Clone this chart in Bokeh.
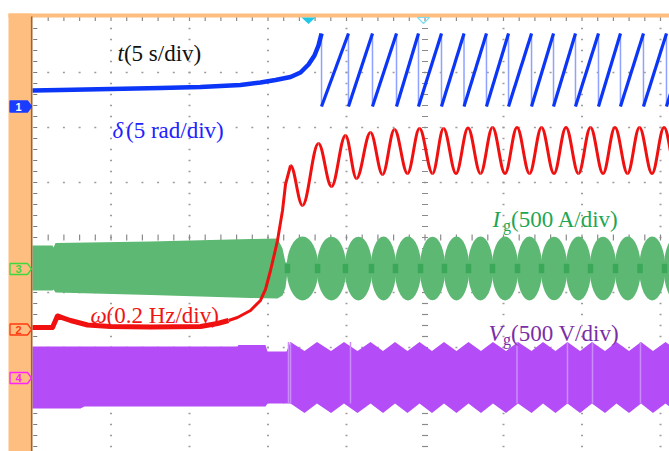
import numpy as np
from bokeh.plotting import figure
from bokeh.models import Range1d
from bokeh.embed import file_html
from bokeh.resources import INLINE
from bokeh.core.properties import value

# ------------------------------------------------------------------
# DATA  (oscilloscope units: x = time in divisions from the left grid
# edge, y = divisions from the centre graticule line, up positive)
# ------------------------------------------------------------------
# Channel 1 (blue): slow rise, then wrapping sawtooth
ch1_pre_t = [0.0, 0.357, 0.994, 1.631, 2.140, 2.650, 2.904, 3.096, 3.287,
             3.414, 3.516, 3.592, 3.643, 3.682]
ch1_pre_v = [2.673, 2.682, 2.700, 2.718, 2.736, 2.773, 2.818, 2.864, 2.918,
             3.000, 3.145, 3.309, 3.491, 3.709]
ch1_wrap_t = [3.682, 4.025, 4.331, 4.637, 4.917, 5.210, 5.497, 5.783, 6.064,
              6.357, 6.637, 6.917, 7.210, 7.490, 7.783, 8.076, 8.366]
ch1_top = 3.709
ch1_bottom = 2.382

# Channel 2 (red, omega): flat, rise, then oscillation extrema
ch2_pre_t = [0.0, 0.255, 0.318, 0.395, 0.484, 0.701, 0.994, 1.503, 2.140,
             2.357, 2.497, 2.611, 2.777, 2.904, 2.968, 3.032, 3.083, 3.121,
             3.185, 3.223, 3.287]
ch2_pre_v = [-1.636, -1.636, -1.427, -1.464, -1.509, -1.591, -1.618, -1.627,
             -1.618, -1.564, -1.509, -1.455, -1.327, -1.145, -0.945, -0.600,
             -0.291, -0.055, 0.491, 0.964, 1.309]
ch2_ext_t = [3.287, 3.439, 3.643, 3.809, 3.987, 4.127, 4.306, 4.459, 4.611,
             4.777, 4.930, 5.096, 5.236, 5.395, 5.548, 5.707, 5.860, 6.019,
             6.172, 6.331, 6.484, 6.643, 6.796, 6.955, 7.108, 7.268, 7.420,
             7.580, 7.732, 7.892, 8.045, 8.204]
ch2_ext_v = [1.309, 0.582, 1.709, 0.927, 1.855, 1.073, 1.909, 1.145, 1.964,
             1.164, 1.982, 1.164, 1.982, 1.164, 1.991, 1.164, 2.000, 1.164,
             2.000, 1.164, 2.000, 1.164, 2.000, 1.164, 2.000, 1.164, 2.000,
             1.164, 2.000, 1.164, 2.000, 1.164]

# Channel 3 (green, Ig): constant-amplitude envelope, then beating lobes
ch3_pre_t = [0.0, 0.255, 0.268, 0.293, 1.503, 2.777, 3.121, 3.185, 3.223, 3.248]
ch3_pre_top = [-0.145, -0.145, -0.182, -0.100, -0.073, -0.027, -0.018, -0.200,
               -0.455, -0.455]
ch3_pre_bot = [-0.964, -0.964, -0.945, -1.000, -1.045, -1.100, -1.109, -1.055,
               -0.909, -0.636]
ch3_neck_t = [3.248, 3.631, 3.987, 4.318, 4.624, 4.943, 5.248, 5.554, 5.860,
              6.178, 6.484, 6.803, 7.108, 7.427, 7.739, 8.051, 8.357]
ch3_lobe_mid = -0.564
ch3_lobe_span = 1.160
ch3_neck_span = 0.170

# Channel 4 (purple, Vg): envelope, then rippling band
ch4_pre_t_top = [0.0, 2.611, 2.624, 2.968, 2.994, 3.236]
ch4_pre_top = [-1.982, -1.982, -1.955, -1.955, -2.073, -2.073]
ch4_pre_t_bot = [0.0, 0.611, 0.662, 2.968, 2.994, 3.248]
ch4_pre_bot = [-3.109, -3.109, -3.073, -3.073, -3.018, -3.018]
ch4_ext_t = [3.287, 3.465, 3.624, 3.803, 3.968, 4.140, 4.306, 4.465, 4.618,
             4.777, 4.930, 5.089, 5.242, 5.401, 5.554, 5.713, 5.866, 6.032,
             6.185, 6.357, 6.503, 6.662, 6.815, 6.975, 7.127, 7.293, 7.439,
             7.599, 7.752, 7.904, 8.064, 8.217]
ch4_up_top, ch4_down_top = -1.900, -2.064
ch4_up_bot, ch4_down_bot = -3.018, -3.191
ch4_glitch_t = [3.261, 3.287, 4.051, 6.172, 6.815, 7.134, 7.745]

labels = [
    # (symbol, subscript, rest, colour, left px, baseline px)
    ("t", "", "(5 s/div)", "#111111", 117, 53),
    ("\u03b4", "", "(5 rad/div)", "#2222FF", 112, 130),
    ("I", "g", "(500 A/div)", "#1FA652", 492, 219),
    ("\u03c9", "", "(0.2 Hz/div)", "#F01414", 90, 315),
    ("V", "g", "(500 V/div)", "#7A2EA6", 488, 333),
]

# ------------------------------------------------------------------
PXD, PYD = 78.5, 55.0   # pixels per division


def X(sx):
    return (sx - 32) / PXD


def Y(sy):
    return (237 - sy) / PYD


p = figure(width=669, height=451, x_range=Range1d(X(0), X(669)),
           y_range=Range1d(Y(451), Y(0)), output_backend="svg",
           toolbar_location=None, x_axis_location=None, y_axis_location=None,
           min_border=0, outline_line_color=None,
           background_fill_color="white", border_fill_color="white")
p.grid.visible = False

# ---- graticule -----------------------------------------------------
gx, gy = [], []
for v in [3, 2, 1, -1, -2, -3]:
    for d in np.arange(0.2, 8.3, 0.2):
        gx.append(d); gy.append(v)
for d in [1, 2, 3, 4, 6, 7, 8]:
    for v in np.arange(-3.8, 4.0, 0.2):
        gx.append(d); gy.append(v)
p.rect(gx, gy, width=2, height=1.5, width_units="screen", height_units="screen",
       fill_color="#9c9c9c", line_color=None)
cx = list(np.arange(0.2, 8.3, 0.2))
p.rect(cx, [0] * len(cx), width=1.2, height=6, width_units="screen",
       height_units="screen", fill_color="#8a8a8a", line_color=None)
cy = list(np.arange(-3.8, 4.0, 0.2))
p.rect([5] * len(cy), cy, width=6, height=1.2, width_units="screen",
       height_units="screen", fill_color="#8a8a8a", line_color=None)
p.rect([0.035] * len(cy), cy, width=4, height=1.2, width_units="screen",
       height_units="screen", fill_color="#7a7a7a", line_color=None)
p.rect(cx, [Y(18.5)] * len(cx), width=1.2, height=4, width_units="screen",
       height_units="screen", fill_color="#8a8a8a", line_color=None)

# ---- channel 3 (green) ---------------------------------------------
p.patch(ch3_pre_t + ch3_pre_t[::-1], ch3_pre_top + ch3_pre_bot[::-1],
        fill_color="#5DB873", line_color=None)
nk = np.array(ch3_neck_t)
p.ellipse(x=(nk[:-1] + nk[1:]) / 2, y=ch3_lobe_mid, width=np.diff(nk) * 1.06,
          height=ch3_lobe_span, fill_color="#5DB873", line_color=None)
p.rect(x=nk, y=ch3_lobe_mid, width=0.07, height=ch3_neck_span,
       fill_color="#3AA858", line_color=None)

# ---- channel 4 (purple) --------------------------------------------
et = list(ch4_ext_t)
top = [ch4_up_top if i % 2 == 0 else ch4_down_top for i in range(len(et))]
bot = [ch4_up_bot if i % 2 == 0 else ch4_down_bot for i in range(len(et))]
p.patch(ch4_pre_t_top + et + et[::-1] + ch4_pre_t_bot[::-1],
        ch4_pre_top + top + bot[::-1] + ch4_pre_bot[::-1],
        fill_color="#B44DF8", line_color=None)
p.segment(x0=ch4_glitch_t, y0=ch4_up_top, x1=ch4_glitch_t, y1=ch4_up_bot,
          line_color="#CC8CFB", line_width=1.5)

# ---- channel 1 (blue) ----------------------------------------------
wt = np.array(ch1_wrap_t)
p.segment(x0=wt[:-1], y0=ch1_top, x1=wt[:-1], y1=ch1_bottom,
          line_color="#8FA2FF", line_width=1.5)
p.line(ch1_pre_t, ch1_pre_v, line_color="#0B35F7", line_width=4.5,
       line_join="round")
p.segment(x0=wt[:-1], y0=ch1_bottom, x1=wt[1:], y1=ch1_top,
          line_color="#0B35F7", line_width=3.2)

# ---- channel 2 (red) -----------------------------------------------
p.line(ch2_pre_t[:11], ch2_pre_v[:11], line_color="#F01010", line_width=5,
       line_join="round")
p.line(ch2_pre_t[10:], ch2_pre_v[10:], line_color="#F01010", line_width=3,
       line_join="round")
t2 = np.array(ch2_ext_t); v2 = np.array(ch2_ext_v)
k = 0.36
dt = np.diff(t2)
p.bezier(x0=t2[:-1], y0=v2[:-1], x1=t2[1:], y1=v2[1:],
         cx0=t2[:-1] + k * dt, cy0=v2[:-1], cx1=t2[1:] - k * dt, cy1=v2[1:],
         line_color="#F01010", line_width=3)

# ---- labels --------------------------------------------------------
FS = 23
for sym, sub, rest, col, lx, by in labels:
    p.text(x=[X(lx)], y=[Y(by)], text=[sym], text_font=value("Liberation Serif"),
           text_font_size=f"{FS}px", text_font_style="italic", text_color=col,
           text_baseline="alphabetic", text_align="left")
    w_sym = {"t": 6.4, "\u03b4": 13.5, "I": 8.5, "\u03c9": 16, "V": 12.5}[sym]
    xr = lx + w_sym
    if sub:
        p.text(x=[X(xr + 2)], y=[Y(by + 6)], text=[sub],
               text_font=value("Liberation Serif"), text_font_size="16px",
               text_color=col, text_baseline="alphabetic", text_align="left")
        xr += 10
    p.text(x=[X(xr)], y=[Y(by)], text=[rest], text_font=value("Liberation Serif"),
           text_font_size=f"{FS}px", text_color=col, text_baseline="alphabetic",
           text_align="left")

# ---- scope frame decorations ---------------------------------------
p.quad(left=X(8), right=X(31), bottom=Y(451), top=Y(13), fill_color="#FDBE80",
       line_color=None)
p.quad(left=X(8), right=X(669), bottom=Y(17), top=Y(13), fill_color="#FDBE80",
       line_color=None)
p.segment(x0=X(31.2), y0=Y(451), x1=X(31.2), y1=Y(16), line_color="#A0622E",
          line_width=1.6)
p.patch([X(301), X(315), X(308)], [Y(17), Y(17), Y(23.5)], fill_color="#1EC8E6",
        line_color=None)
p.patch([X(417), X(429), X(423)], [Y(17), Y(17), Y(23)], fill_color=None,
        line_color="#7FDBEF", line_width=1.2)

markers = [("1", 106, "#1A3CFF", True), ("3", 268.5, "#3CD83C", False),
           ("2", 329, "#FF3A10", False), ("4", 377.5, "#FF22FF", False)]
for lab, c, col, filled in markers:
    xs = [X(9.5), X(27), X(31), X(27), X(9.5)]
    ys = [Y(c - 5.5), Y(c - 5.5), Y(c), Y(c + 5.5), Y(c + 5.5)]
    p.patch(xs, ys, fill_color=col if filled else None, line_color=col,
            line_width=1.3)
    p.text(x=[X(18)], y=[Y(c)], text=[lab], text_font=value("Liberation Sans"),
           text_font_size="11px", text_font_style="bold",
           text_color="white" if filled else col, text_align="center",
           text_baseline="middle")

open("out.html", "w").write(file_html(p, INLINE))
